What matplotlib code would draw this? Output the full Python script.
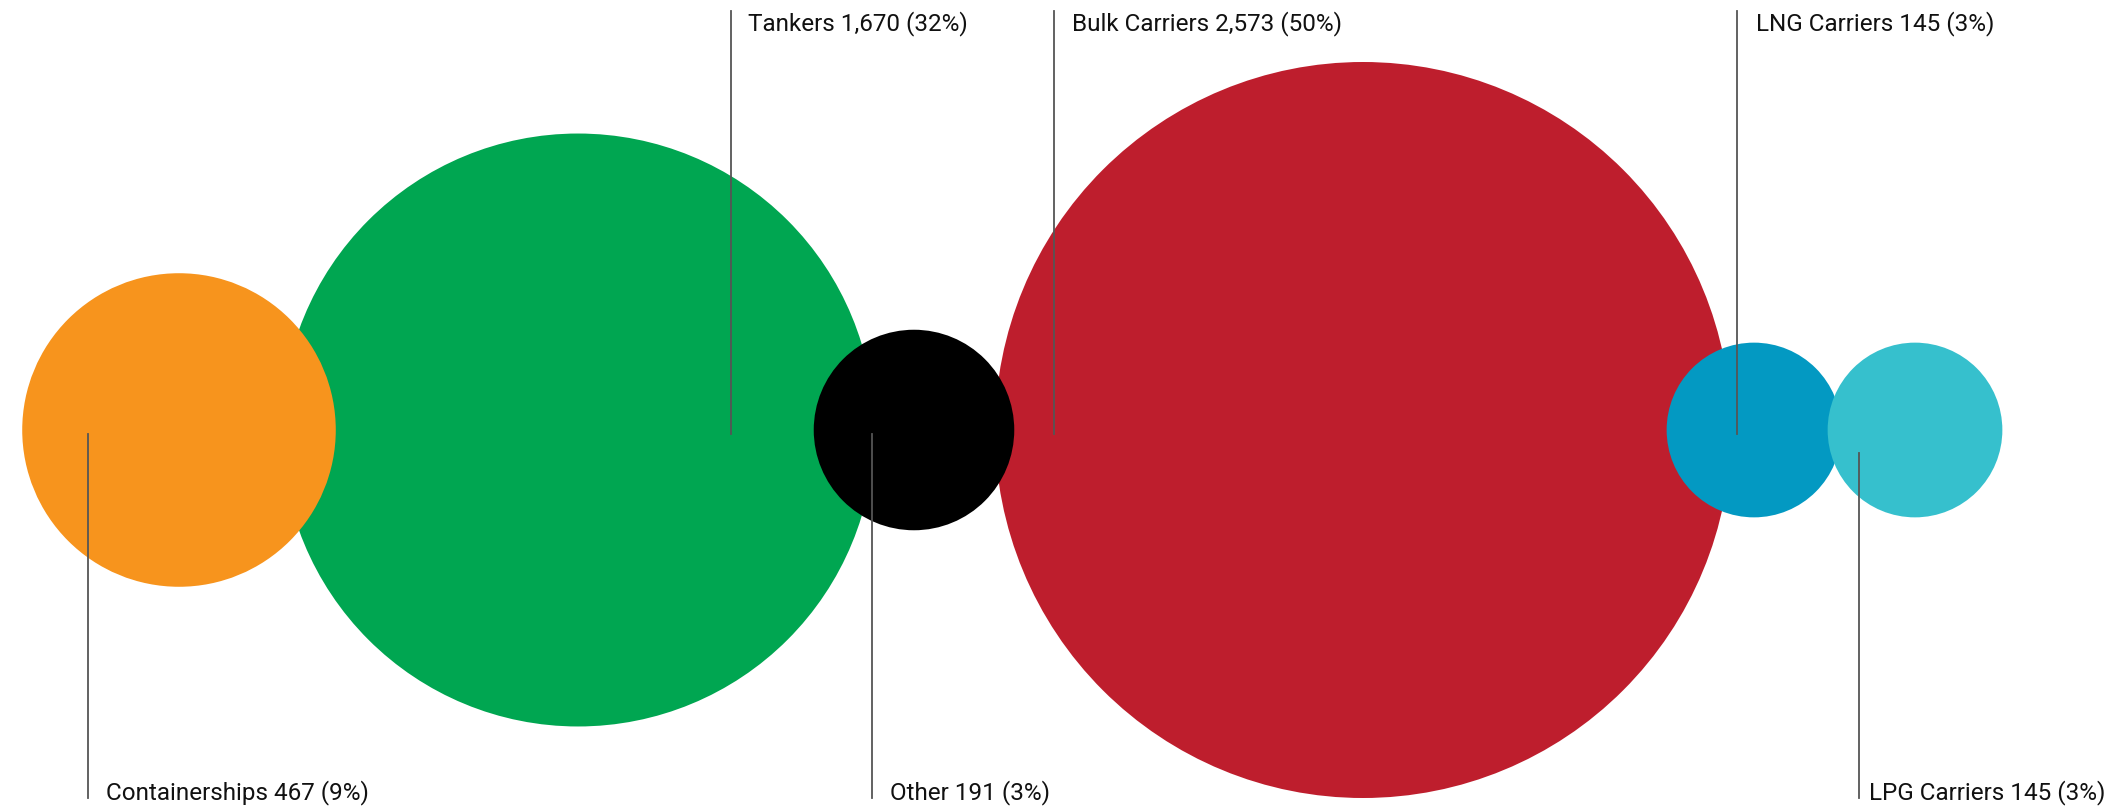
import numpy as np
import matplotlib.pyplot as plt
from matplotlib.patches import Circle

plt.rcParams['font.family'] = ['Roboto', 'DejaVu Sans']

# fleet by ship type
categories = ["Containerships", "Tankers", "Other", "Bulk Carriers", "LNG Carriers", "LPG Carriers"]
ships = [467, 1670, 191, 2573, 145, 145]
shares = [9, 32, 3, 50, 3, 3]
colors = ["#F7941D", "#00A651", "#000000", "#BE1E2D", "#0399C2", "#36C0CD"]

# layout in pixel units
centers_x = [179, 578, 914, 1363, 1754, 1915]
center_y = 430
leader_x = [88, 731, 872, 1054, 1737, 1859]
label_x = [106, 748, 890, 1072, 1756, 1869]
label_side = ["bottom", "top", "bottom", "top", "top", "bottom"]
leader_start = [434, 434, 434, 434, 434, 453]

W, H = 2126, 807
fig = plt.figure(figsize=(W / 100, H / 100), dpi=100)
ax = fig.add_axes([0, 0, 1, 1])
ax.set_xlim(0, W)
ax.set_ylim(H, 0)
ax.set_aspect("equal")
ax.axis("off")

# area proportional to count
k = 368 / np.sqrt(max(ships))
radii = [k * np.sqrt(v) for v in ships]

# draw order so smaller bubbles sit on top of their neighbours
order = [1, 0, 3, 2, 4, 5]
for z, i in enumerate(order):
    ax.add_patch(Circle((centers_x[i], center_y), radii[i], color=colors[i],
                        lw=0, zorder=1 + z))

for i, name in enumerate(categories):
    label = f"{name} {ships[i]:,} ({shares[i]}%)"
    if label_side[i] == "top":
        ax.plot([leader_x[i], leader_x[i]], [11, leader_start[i]], color="#555555",
                lw=1.3, zorder=20)
        ty = 30
    else:
        ax.plot([leader_x[i], leader_x[i]], [leader_start[i], 798], color="#555555",
                lw=1.3, zorder=20)
        ty = 799
    ax.text(label_x[i], ty, label, fontsize=17.5, color="#111111",
            ha="left", va="baseline", zorder=21)

fig.savefig("out.png", dpi=100, facecolor="white")
